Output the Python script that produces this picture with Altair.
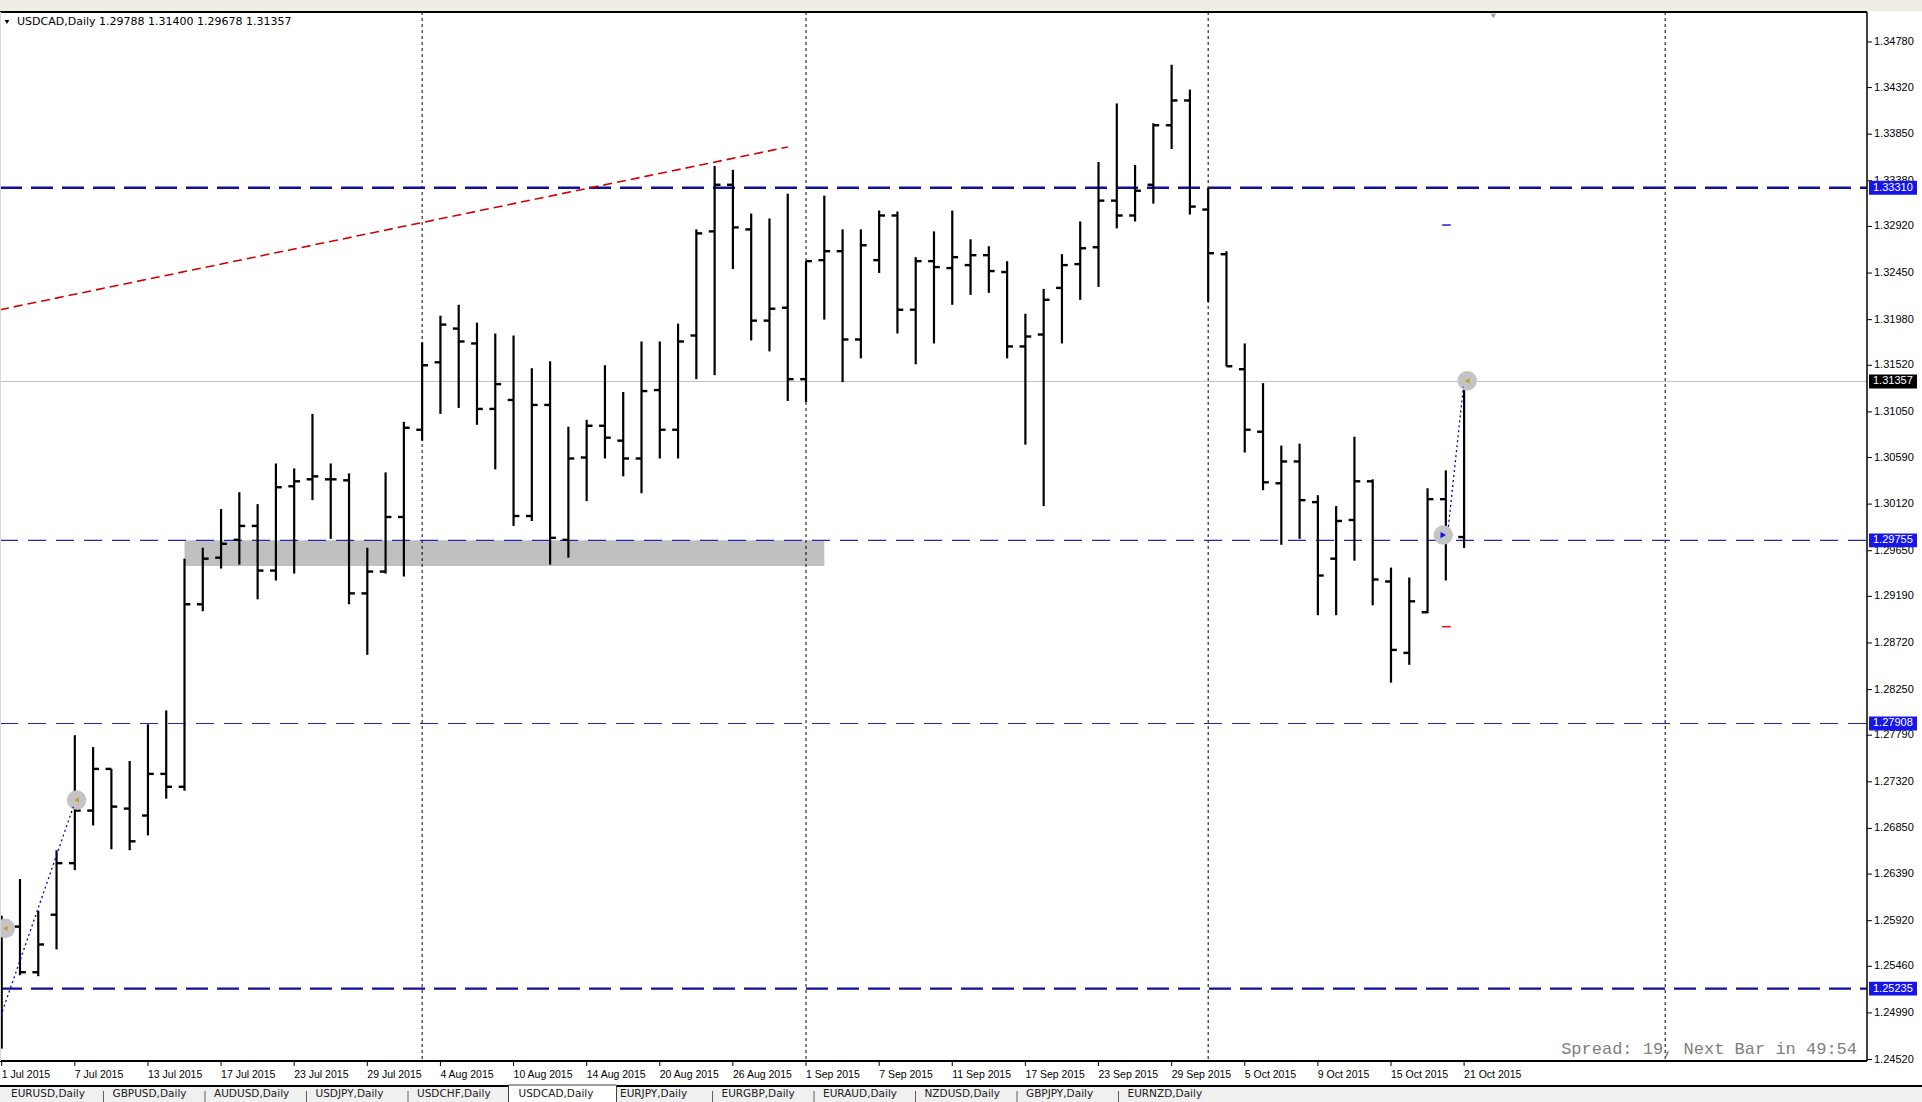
import altair as alt
import pandas as pd

# ---------------- data ----------------
bars = list(range(81))
opens = [1.2520, 1.2586, 1.2540, 1.2598, 1.2650, 1.2703, 1.2745, 1.2705, 1.2698, 1.2740,
         1.2727, 1.2911, 1.2958, 1.2976, 1.2990, 1.2945, 1.3030, 1.3037, 1.3037, 1.3036,
         1.2922, 1.2944, 1.2999, 1.3087, 1.3155, 1.3189, 1.3174, 1.3108, 1.3117, 1.3000,
         1.3112, 1.2976, 1.3059, 1.3091, 1.3076, 1.3058, 1.3127, 1.3087, 1.3182, 1.3287,
         1.3334, 1.3289, 1.3197, 1.3210, 1.3138, 1.3258, 1.3267, 1.3178, 1.3258, 1.3303,
         1.3208, 1.3257, 1.3250, 1.3253, 1.3263, 1.3246, 1.3171, 1.3183, 1.3230, 1.3254,
         1.3271, 1.3318, 1.3303, 1.3334, 1.3394, 1.3419, 1.3309, 1.3264, 1.3148, 1.3085,
         1.3033, 1.3055, 1.3014, 1.2957, 1.2996, 1.3035, 1.2934, 1.2862, 1.2903, 1.3017,
         1.29788]
highs = [1.2597, 1.2634, 1.2602, 1.2663, 1.2779, 1.2767, 1.2745, 1.2753, 1.2790, 1.2804,
         1.2957, 1.2968, 1.3007, 1.3024, 1.3012, 1.3053, 1.3048, 1.3103, 1.3053, 1.3043,
         1.2968, 1.3044, 1.3095, 1.3175, 1.3202, 1.3213, 1.3195, 1.3184, 1.3182, 1.3149,
         1.3156, 1.3090, 1.3097, 1.3152, 1.3125, 1.3176, 1.3176, 1.3194, 1.3289, 1.3353,
         1.3349, 1.3305, 1.3300, 1.3325, 1.3257, 1.3323, 1.3289, 1.3289, 1.3308, 1.3307,
         1.3261, 1.3287, 1.3308, 1.3279, 1.3272, 1.3257, 1.3204, 1.3229, 1.3264, 1.3297,
         1.3357, 1.3416, 1.3354, 1.3396, 1.3455, 1.3430, 1.3331, 1.3267, 1.3174, 1.3134,
         1.3071, 1.3073, 1.3021, 1.3010, 1.3080, 1.3037, 1.2948, 1.2938, 1.3028, 1.3046,
         1.31400]
lows = [1.2463, 1.2537, 1.2536, 1.2563, 1.2643, 1.2688, 1.2664, 1.2663, 1.2678, 1.2715,
        1.2723, 1.2904, 1.2947, 1.2951, 1.2916, 1.2935, 1.2942, 1.3016, 1.2977, 1.2911,
        1.2860, 1.2942, 1.2939, 1.3076, 1.3103, 1.3109, 1.3092, 1.3047, 1.2990, 1.2995,
        1.2951, 1.2958, 1.3015, 1.3058, 1.3040, 1.3023, 1.3058, 1.3058, 1.3138, 1.3142,
        1.3249, 1.3177, 1.3166, 1.3116, 1.3115, 1.3198, 1.3135, 1.3159, 1.3245, 1.3184,
        1.3153, 1.3174, 1.3213, 1.3223, 1.3225, 1.3159, 1.3072, 1.3010, 1.3174, 1.3218,
        1.3231, 1.3290, 1.3297, 1.3315, 1.3370, 1.3304, 1.3216, 1.3151, 1.3064, 1.3026,
        1.2971, 1.2977, 1.2900, 1.2900, 1.2955, 1.2910, 1.2832, 1.2850, 1.2902, 1.2935,
        1.29678]
closes = [1.2586, 1.2540, 1.2568, 1.2650, 1.2703, 1.2745, 1.2707, 1.2672, 1.2740, 1.2727,
          1.2911, 1.2957, 1.2972, 1.2990, 1.2945, 1.3029, 1.3035, 1.3040, 1.3037, 1.2922,
          1.2944, 1.2999, 1.3089, 1.3152, 1.3193, 1.3176, 1.3108, 1.3133, 1.3000, 1.3112,
          1.2978, 1.3058, 1.3091, 1.3079, 1.3058, 1.3126, 1.3087, 1.3176, 1.3285, 1.3334,
          1.3291, 1.3197, 1.3209, 1.3138, 1.3257, 1.3267, 1.3178, 1.3273, 1.3303, 1.3208,
          1.3257, 1.3251, 1.3261, 1.3263, 1.3247, 1.3171, 1.3181, 1.3218, 1.3253, 1.3270,
          1.3318, 1.3303, 1.3328, 1.3394, 1.3419, 1.3312, 1.3265, 1.3151, 1.3087, 1.3034,
          1.3055, 1.3016, 1.2940, 1.2995, 1.3035, 1.2936, 1.2865, 1.2914, 1.3017, 1.2980,
          1.31357]

date_labels = ["1 Jul 2015", "7 Jul 2015", "13 Jul 2015", "17 Jul 2015", "23 Jul 2015",
               "29 Jul 2015", "4 Aug 2015", "10 Aug 2015", "14 Aug 2015", "20 Aug 2015",
               "26 Aug 2015", "1 Sep 2015", "7 Sep 2015", "11 Sep 2015", "17 Sep 2015",
               "23 Sep 2015", "29 Sep 2015", "5 Oct 2015", "9 Oct 2015", "15 Oct 2015",
               "21 Oct 2015"]
date_label_bars = [0, 4, 8, 12, 16, 20, 24, 28, 32, 36, 40, 44, 48, 52, 56, 60, 64, 68, 72, 76, 80]

price_ticks = [1.34780, 1.34320, 1.33850, 1.33380, 1.32920, 1.32450, 1.31980, 1.31520,
               1.31050, 1.30590, 1.30120, 1.29650, 1.29190, 1.28720, 1.28250, 1.27790,
               1.27320, 1.26850, 1.26390, 1.25920, 1.25460, 1.24990, 1.24520]

levels_thick = [1.33310, 1.25235]
levels_thin = [1.29755, 1.27908]
current_price = 1.31357
separators = [23, 44, 66, 91]
zone_bars = [10, 45]
zone_prices = [1.29495, 1.29755]
trend_bars = [-0.093, 43.0]
trend_prices = [1.32080, 1.33721]
trade_lines = [((-0.5, 1.24720), (3.92, 1.27069)), ((79.14, 1.29892), (79.96, 1.31303))]
trade_marks_bar = [0.2, 4.1, 78.86, 80.17]
trade_marks_price = [1.25843, 1.27136, 1.29808, 1.31364]
trade_marks_kind = ["close", "close", "open", "close"]
tp_price, sl_price, tpsl_bars = 1.32934, 1.28884, [78.8, 79.27]
title_text = "USDCAD,Daily  1.29788 1.31400 1.29678 1.31357"
spread_text = "Spread: 19, Next Bar in 49:54"
tabs = ["EURUSD,Daily", "GBPUSD,Daily", "AUDUSD,Daily", "USDJPY,Daily", "USDCHF,Daily",
        "USDCAD,Daily", "EURJPY,Daily", "EURGBP,Daily", "EURAUD,Daily", "NZDUSD,Daily",
        "GBPJPY,Daily", "EURNZD,Daily"]
active_tab = "USDCAD,Daily"

# ---------------- layout ----------------
W, H = 1867, 1049
FONT = "Liberation Sans"
WIDE = "DejaVu Sans"
xs = alt.Scale(domain=[-0.093, 102.04], nice=False, zero=False)
ys = alt.Scale(domain=[1.24505, 1.35082], nice=False, zero=False)
NAVY = "#10109a"
TAG = "#1616e8"
TAG_H = 0.0007


def X(f, **kw):
    return alt.X(f, type="quantitative", scale=xs, axis=None, **kw)


def Y(f, **kw):
    return alt.Y(f, type="quantitative", scale=ys, axis=None, **kw)


ohlc = pd.DataFrame({"i": bars, "o": opens, "h": highs, "l": lows, "c": closes})
ohlc["il"] = ohlc["i"] - 0.32
ohlc["ir"] = ohlc["i"] + 0.32

one = pd.DataFrame({"a": [0]})
layers = []

# top strip (toolbar remnant)
layers.append(alt.Chart(one).mark_rect(color="#efeee4").encode(
    x=alt.value(0), x2=alt.value(1922), y=alt.value(-12), y2=alt.value(-1)))

# support zone
zone = pd.DataFrame({"x1": [zone_bars[0]], "x2": [zone_bars[1]], "y1": [zone_prices[0]], "y2": [zone_prices[1]]})
layers.append(alt.Chart(zone).mark_rect(color="#c0c0c0").encode(x=X("x1"), x2="x2", y=Y("y1"), y2="y2"))

# period separators
layers.append(alt.Chart(pd.DataFrame({"s": separators})).mark_rule(
    color="black", strokeWidth=1, strokeDash=[3, 3]).encode(x=X("s"), y=alt.value(0), y2=alt.value(H)))

# current price line
layers.append(alt.Chart(pd.DataFrame({"p": [current_price]})).mark_rule(
    color="#c0c0c0", strokeWidth=1).encode(y=Y("p"), x=alt.value(0), x2=alt.value(W)))

# horizontal levels
layers.append(alt.Chart(pd.DataFrame({"p": levels_thick})).mark_rule(
    color=NAVY, strokeWidth=2.4, strokeDash=[22, 9]).encode(y=Y("p"), x=alt.value(0), x2=alt.value(W)))
layers.append(alt.Chart(pd.DataFrame({"p": levels_thin})).mark_rule(
    color="#2626a8", strokeWidth=1.2, strokeDash=[18, 10]).encode(y=Y("p"), x=alt.value(0), x2=alt.value(W)))

# trend line
trend = pd.DataFrame({"x1": [trend_bars[0]], "x2": [trend_bars[1]], "y1": [trend_prices[0]], "y2": [trend_prices[1]]})
layers.append(alt.Chart(trend).mark_rule(color="#d40000", strokeWidth=1.6, strokeDash=[9, 5], clip=True).encode(
    x=X("x1"), x2="x2", y=Y("y1"), y2="y2"))

# OHLC bars
layers.append(alt.Chart(ohlc).mark_rule(color="black", strokeWidth=2.2, clip=True).encode(
    x=X("i"), y=Y("l"), y2="h:Q"))
layers.append(alt.Chart(ohlc).mark_rule(color="black", strokeWidth=2.4, clip=True).encode(
    x=X("il"), x2="i:Q", y=Y("o")))
layers.append(alt.Chart(ohlc).mark_rule(color="black", strokeWidth=2.4, clip=True).encode(
    x=X("i"), x2="ir:Q", y=Y("c")))

# trade markers
tl = pd.DataFrame({"x1": [t[0][0] for t in trade_lines], "y1": [t[0][1] for t in trade_lines],
                   "x2": [t[1][0] for t in trade_lines], "y2": [t[1][1] for t in trade_lines]})
marks = pd.DataFrame({"i": trade_marks_bar, "p": trade_marks_price, "k": trade_marks_kind})
layers.append(alt.Chart(marks).mark_circle(color="#c4c4c4", opacity=1, size=380, clip=True).encode(
    x=X("i"), y=Y("p")))
layers.append(alt.Chart(tl).mark_rule(color="#0000c8", strokeWidth=1.3, strokeDash=[2, 3], clip=True).encode(
    x=X("x1"), x2="x2", y=Y("y1"), y2="y2"))
layers.append(alt.Chart(marks[marks.k == "close"]).mark_point(
    shape="triangle-left", filled=True, color="#c89a2a", opacity=1, size=28, clip=True).encode(x=X("i"), y=Y("p")))
layers.append(alt.Chart(marks[marks.k == "open"]).mark_point(
    shape="triangle-right", filled=True, color="#1010f0", opacity=1, size=40).encode(x=X("i"), y=Y("p")))

tpsl = pd.DataFrame({"x1": [tpsl_bars[0]] * 2, "x2": [tpsl_bars[1]] * 2, "p": [tp_price, sl_price],
                     "col": ["#2020c0", "#e01010"]})
layers.append(alt.Chart(tpsl).mark_rule(strokeWidth=1.5).encode(
    x=X("x1"), x2="x2", y=Y("p"), color=alt.Color("col:N", scale=None)))

# shift marker at top
layers.append(alt.Chart(pd.DataFrame({"i": [81.6]})).mark_point(
    shape="triangle-down", filled=True, color="#a0a0a0", opacity=1, size=30).encode(x=X("i"), y=alt.value(4)))

# borders
layers.append(alt.Chart(one).mark_rule(color="black", strokeWidth=2).encode(
    x=alt.value(0), x2=alt.value(W), y=alt.value(0)))
layers.append(alt.Chart(one).mark_rule(color="black", strokeWidth=2).encode(
    x=alt.value(0), x2=alt.value(W), y=alt.value(H)))
layers.append(alt.Chart(one).mark_rule(color="black", strokeWidth=1.5).encode(
    x=alt.value(W), y=alt.value(0), y2=alt.value(H)))
layers.append(alt.Chart(one).mark_rule(color="#d8d8d8", strokeWidth=1).encode(
    x=alt.value(0.5), y=alt.value(0), y2=alt.value(H)))

# price axis (right)
pt = pd.DataFrame({"p": price_ticks, "lbl": [f"{v:.5f}" for v in price_ticks]})
layers.append(alt.Chart(pt).mark_rule(color="black", strokeWidth=1).encode(
    x=alt.value(W), x2=alt.value(W + 5), y=Y("p")))
layers.append(alt.Chart(pt).mark_text(align="left", baseline="middle", color="black",
                                      font=FONT, fontSize=11).encode(
    x=alt.value(W + 7), y=Y("p"), text="lbl:N"))

# date axis (bottom)
dt = pd.DataFrame({"i": date_label_bars, "lbl": date_labels})
layers.append(alt.Chart(dt).mark_rule(color="black", strokeWidth=1).encode(
    x=X("i"), y=alt.value(H), y2=alt.value(H + 5)))
layers.append(alt.Chart(dt).mark_text(align="left", baseline="top", color="black",
                                      font=FONT, fontSize=10.5).encode(
    x=X("i"), y=alt.value(H + 9), text="lbl:N"))

# price tags on the right axis
tag_prices = levels_thick[:1] + [current_price] + levels_thin + levels_thick[1:]
tag_bg = [TAG, "black", TAG, TAG, TAG]
tags = pd.DataFrame({"p": tag_prices, "bg": tag_bg})
tags["top"] = tags["p"] + TAG_H
tags["bot"] = tags["p"] - TAG_H
tags["lbl"] = tags["p"].map(lambda v: f"{v:.5f}")
layers.append(alt.Chart(tags).mark_rect().encode(
    x=alt.value(W + 2), x2=alt.value(W + 50), y=Y("top"), y2="bot", color=alt.Color("bg:N", scale=None)))
layers.append(alt.Chart(tags).mark_text(align="left", baseline="middle", color="white",
                                        font=FONT, fontSize=11).encode(
    x=alt.value(W + 6), y=Y("p"), text="lbl:N"))

# title
layers.append(alt.Chart(one).mark_point(shape="triangle-down", filled=True, color="black",
                                        opacity=1, size=22).encode(x=alt.value(7), y=alt.value(10)))
layers.append(alt.Chart(one).mark_text(align="left", baseline="middle", color="black",
                                       font=WIDE, fontSize=11).encode(
    x=alt.value(17), y=alt.value(10), text=alt.value(title_text)))

# spread text
layers.append(alt.Chart(one).mark_text(align="right", baseline="middle", color="#808080",
                                       font="Liberation Mono", fontSize=17).encode(
    x=alt.value(1857), y=alt.value(1037), text=alt.value(spread_text)))

# tab bar
layers.append(alt.Chart(one).mark_rect(color="#f0f0f0").encode(
    x=alt.value(0), x2=alt.value(1922), y=alt.value(1074), y2=alt.value(1092)))
layers.append(alt.Chart(one).mark_rule(color="black", strokeWidth=2).encode(
    x=alt.value(0), x2=alt.value(1922), y=alt.value(1074)))
k_act = tabs.index(active_tab)
ax0 = 11 + 101.5 * k_act - 10
layers.append(alt.Chart(one).mark_rect(color="white", stroke="#404040", strokeWidth=1).encode(
    x=alt.value(ax0), x2=alt.value(ax0 + 108), y=alt.value(1073), y2=alt.value(1095)))
for k, name in enumerate(tabs):
    tx = 11 + 101.5 * k
    layers.append(alt.Chart(one).mark_text(align="left", baseline="top", color="#202020",
                                           font=WIDE, fontSize=10.5).encode(
        x=alt.value(tx), y=alt.value(1077), text=alt.value(name)))
    if k > 0 and k not in (k_act, k_act + 1):
        layers.append(alt.Chart(one).mark_rule(color="#606060", strokeWidth=1).encode(
            x=alt.value(tx - 9), y=alt.value(1079), y2=alt.value(1092)))

chart = alt.layer(*layers).properties(
    width=W, height=H,
    padding={"left": 0, "top": 12, "right": 55, "bottom": 41},
    autosize=alt.AutoSizeParams(type="none"),
    background="white",
).configure_view(stroke=None)

chart.save("out.html", embed_options={"renderer": "svg", "actions": False})
